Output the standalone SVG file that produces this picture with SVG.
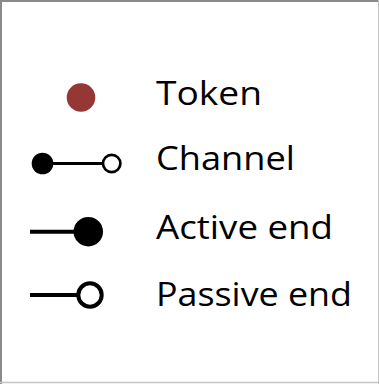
<svg xmlns="http://www.w3.org/2000/svg" width="379" height="384" viewBox="0 0 379 384">
  <style>
    .label { font-family: "Open Sans", "Liberation Sans", sans-serif; font-size: 33px; fill: #000; }
    .wire { stroke: #000; stroke-linecap: butt; }
    .dot { fill: #000; }
    .ring { fill: #fff; stroke: #000; }
  </style>
  <rect x="0" y="0" width="379" height="384" fill="#fff"/>
  <!-- frame: darker top/left edges, lighter right/bottom -->
  <line x1="0" y1="1" x2="379" y2="1" stroke="#8a8a8a" stroke-width="2"/>
  <line x1="1" y1="0" x2="1" y2="384" stroke="#8a8a8a" stroke-width="2"/>
  <line x1="378.5" y1="0" x2="378.5" y2="384" stroke="#c4c4c4" stroke-width="1"/>
  <line x1="0" y1="382.5" x2="379" y2="382.5" stroke="#c4c4c4" stroke-width="1.5"/>

  <g id="token">
    <circle cx="81" cy="97.5" r="14.3" fill="#953735"/>
    <text class="label" x="156" y="104.5" textLength="106" lengthAdjust="spacingAndGlyphs">Token</text>
  </g>

  <g id="channel">
    <line class="wire" x1="50" y1="163.5" x2="103" y2="163.5" stroke-width="3"/>
    <circle class="dot" cx="42.5" cy="163.5" r="10.8"/>
    <circle class="ring" cx="111.7" cy="163.5" r="8.7" stroke-width="2.7"/>
    <text class="label" x="156" y="170" textLength="139" lengthAdjust="spacingAndGlyphs">Channel</text>
  </g>

  <g id="active-end">
    <line class="wire" x1="30" y1="231.7" x2="80" y2="231.7" stroke-width="4"/>
    <circle class="dot" cx="88.3" cy="231.7" r="14.7"/>
    <text class="label" x="156" y="238.5" textLength="177" lengthAdjust="spacingAndGlyphs">Active end</text>
  </g>

  <g id="passive-end">
    <line class="wire" x1="30" y1="295" x2="78" y2="295" stroke-width="4"/>
    <circle class="ring" cx="90" cy="295" r="11.7" stroke-width="4"/>
    <text class="label" x="156" y="306" textLength="196" lengthAdjust="spacingAndGlyphs">Passive end</text>
  </g>
</svg>
